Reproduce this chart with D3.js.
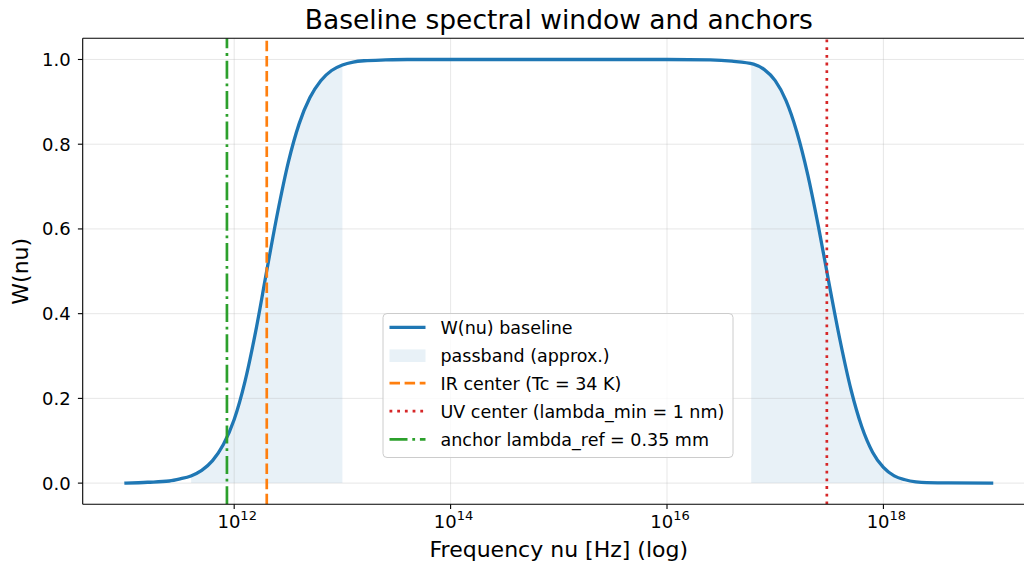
<!DOCTYPE html>
<html>
<head>
<meta charset="utf-8">
<script src="https://cdn.jsdelivr.net/npm/d3@7/dist/d3.min.js"></script>
<style>
  html, body { margin: 0; padding: 0; background: #fff; }
  svg { display: block; font-family: "DejaVu Sans", sans-serif; }
</style>
</head>
<body>
<svg id="chart" width="1024" height="566"></svg>
<script>
// ---- data ----
const freqExp = [11.0, 11.2, 11.4, 11.5, 11.6, 11.7, 11.8, 11.9, 12.0, 12.1, 12.2, 12.3, 12.4, 12.5, 12.6, 12.7, 12.8, 12.9, 13.0, 13.1, 13.2, 13.4, 13.6, 14.0, 15.0, 16.0, 16.4, 16.6, 16.8, 16.9, 17.0, 17.1, 17.2, 17.3, 17.4, 17.5, 17.6, 17.7, 17.8, 17.9, 18.0, 18.1, 18.2, 18.3, 18.4, 18.6, 19.0];
const windowW = [0.000, 0.002, 0.005, 0.010, 0.017, 0.030, 0.053, 0.091, 0.150, 0.240, 0.360, 0.500, 0.637, 0.757, 0.848, 0.910, 0.950, 0.974, 0.987, 0.994, 0.997, 0.999, 1.000, 1.000, 1.000, 1.000, 0.999, 0.996, 0.989, 0.976, 0.950, 0.903, 0.829, 0.729, 0.605, 0.468, 0.336, 0.221, 0.133, 0.073, 0.037, 0.017, 0.008, 0.003, 0.001, 0.0005, 0.000];
const bandLo = [4e11, 6e16];
const bandHi = [1e13, 1.5e18];
const nuIR = 2e12;       // IR center (Tc = 34 K)
const nuUV = 3e17;       // UV center (lambda_min = 1 nm)
const nuAnchor = 8.57e11; // anchor lambda_ref = 0.35 mm
const xTickExp = [12, 14, 16, 18];
const yTicks = [0.0, 0.2, 0.4, 0.6, 0.8, 1.0];
const legendLabels = ["W(nu) baseline", "passband (approx.)", "IR center (Tc = 34 K)", "UV center (lambda_min = 1 nm)", "anchor lambda_ref = 0.35 mm"];

const C_BLUE = "#1f77b4", C_ORANGE = "#ff7f0e", C_RED = "#d62728", C_GREEN = "#2ca02c";

// ---- layout ----
const L = 82.7, R = 1034.9, T = 38.3, B = 504.3;
const svg = d3.select("#chart");
const x = d3.scaleLog().domain([Math.pow(10, 10.6), Math.pow(10, 19.4)]).range([L, R]);
const y = d3.scaleLinear().domain([-0.05, 1.05]).range([B, T]);

const data = freqExp.map((e, i) => ({ nu: Math.pow(10, e), w: windowW[i] }));

const defs = svg.append("defs");
defs.append("clipPath").attr("id", "plotclip").append("rect")
  .attr("x", L).attr("y", T).attr("width", R - L).attr("height", B - T);
bandLo.forEach((lo, i) => {
  defs.append("clipPath").attr("id", "band" + i).append("rect")
    .attr("x", x(lo)).attr("y", T).attr("width", x(bandHi[i]) - x(lo)).attr("height", B - T);
});

const plot = svg.append("g").attr("clip-path", "url(#plotclip)");

// passband shading
const area = d3.area().x(d => x(d.nu)).y0(y(0)).y1(d => y(d.w)).curve(d3.curveMonotoneX);
bandLo.forEach((lo, i) => {
  plot.append("path").datum(data).attr("d", area)
    .attr("clip-path", "url(#band" + i + ")")
    .attr("fill", C_BLUE).attr("fill-opacity", 0.1);
});

// grid
const gridG = plot.append("g");
xTickExp.forEach(e => {
  const xx = x(Math.pow(10, e));
  gridG.append("line").attr("x1", xx).attr("x2", xx).attr("y1", T).attr("y2", B)
    .attr("stroke", "#b0b0b0").attr("stroke-opacity", 0.3).attr("stroke-width", 1);
});
yTicks.forEach(v => {
  gridG.append("line").attr("x1", L).attr("x2", R).attr("y1", y(v)).attr("y2", y(v))
    .attr("stroke", "#b0b0b0").attr("stroke-opacity", 0.3).attr("stroke-width", 1);
});

// curve
const line = d3.line().x(d => x(d.nu)).y(d => y(d.w)).curve(d3.curveMonotoneX);
plot.append("path").datum(data).attr("d", line)
  .attr("fill", "none").attr("stroke", C_BLUE).attr("stroke-width", 3.3)
  .attr("stroke-linejoin", "round").attr("stroke-linecap", "square");

// vertical anchor lines
const vlines = [
  { nu: nuIR, color: C_ORANGE, dash: "10.5,4.6" },
  { nu: nuUV, color: C_RED, dash: "2.8,4.9" },
  { nu: nuAnchor, color: C_GREEN, dash: "18,4.8,2.8,4.8" }
];
vlines.forEach(v => {
  plot.append("line").attr("x1", x(v.nu)).attr("x2", x(v.nu)).attr("y1", B).attr("y2", T)
    .attr("stroke", v.color).attr("stroke-width", 2.7).attr("stroke-dasharray", v.dash);
});

// spines
svg.append("line").attr("x1", L).attr("x2", R).attr("y1", T).attr("y2", T).attr("stroke", "#000").attr("stroke-width", 1.1);
svg.append("line").attr("x1", L).attr("x2", R).attr("y1", B).attr("y2", B).attr("stroke", "#000").attr("stroke-width", 1.1);
svg.append("line").attr("x1", L).attr("x2", L).attr("y1", T).attr("y2", B).attr("stroke", "#000").attr("stroke-width", 1.1);

// x axis ticks
xTickExp.forEach(e => {
  const xx = x(Math.pow(10, e));
  svg.append("line").attr("x1", xx).attr("x2", xx).attr("y1", B).attr("y2", B + 4.8).attr("stroke", "#000").attr("stroke-width", 1.1);
  const t = svg.append("text").attr("x", xx + 3).attr("y", 528).attr("text-anchor", "middle")
    .attr("font-size", 18).attr("fill", "#000");
  t.append("tspan").text("10");
  t.append("tspan").attr("font-size", 13).attr("dy", -8).text(String(e));
});

// y axis ticks
yTicks.forEach(v => {
  svg.append("line").attr("x1", L - 4.8).attr("x2", L).attr("y1", y(v)).attr("y2", y(v)).attr("stroke", "#000").attr("stroke-width", 1.1);
  svg.append("text").attr("x", L - 12).attr("y", y(v)).attr("dy", "0.36em")
    .attr("text-anchor", "end").attr("font-size", 18).attr("fill", "#000").text(v.toFixed(1));
});

// axis labels and title
svg.append("text").attr("x", (L + R) / 2).attr("y", 557).attr("text-anchor", "middle")
  .attr("font-size", 22).attr("fill", "#000").text("Frequency nu [Hz] (log)");
svg.append("text").attr("transform", `translate(28,${(T + B) / 2}) rotate(-90)`).attr("text-anchor", "middle")
  .attr("font-size", 22).attr("fill", "#000").text("W(nu)");
svg.append("text").attr("x", (L + R) / 2).attr("y", 29).attr("text-anchor", "middle")
  .attr("font-size", 26.5).attr("fill", "#000").text("Baseline spectral window and anchors");

// legend
const lg = svg.append("g");
lg.append("rect").attr("x", 383).attr("y", 313.5).attr("width", 350).attr("height", 144).attr("rx", 4)
  .attr("fill", "#fff").attr("fill-opacity", 0.8).attr("stroke", "#cccccc").attr("stroke-width", 1);
const rowY = [327.3, 355.7, 383.2, 411.2, 439.4];
const hx0 = 389.5, hx1 = 425.5, tx = 440.5;
// handles
lg.append("line").attr("x1", hx0).attr("x2", hx1).attr("y1", rowY[0]).attr("y2", rowY[0]).attr("stroke", C_BLUE).attr("stroke-width", 3.3);
lg.append("rect").attr("x", hx0).attr("y", rowY[1] - 6.3).attr("width", hx1 - hx0).attr("height", 12.6).attr("fill", C_BLUE).attr("fill-opacity", 0.1);
lg.append("line").attr("x1", hx0).attr("x2", hx1).attr("y1", rowY[2]).attr("y2", rowY[2]).attr("stroke", C_ORANGE).attr("stroke-width", 2.7).attr("stroke-dasharray", "10.5,4.6");
lg.append("line").attr("x1", hx0).attr("x2", hx1).attr("y1", rowY[3]).attr("y2", rowY[3]).attr("stroke", C_RED).attr("stroke-width", 2.7).attr("stroke-dasharray", "2.8,4.9");
lg.append("line").attr("x1", hx0).attr("x2", hx1).attr("y1", rowY[4]).attr("y2", rowY[4]).attr("stroke", C_GREEN).attr("stroke-width", 2.7).attr("stroke-dasharray", "18,4.8,2.8,4.8");
legendLabels.forEach((s, i) => {
  lg.append("text").attr("x", tx).attr("y", rowY[i]).attr("dy", "0.36em").attr("font-size", 17.5).attr("fill", "#000").text(s);
});
</script>
</body>
</html>
